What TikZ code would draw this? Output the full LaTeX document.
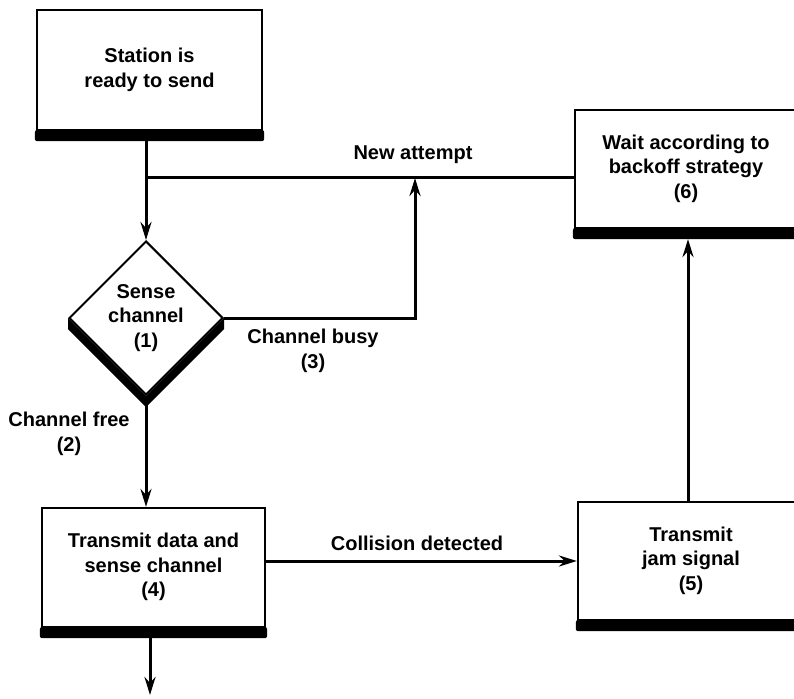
\documentclass[tikz,border=0pt]{standalone}
\usepackage{fontspec}
\setmainfont{Liberation Sans}
\usetikzlibrary{shapes.geometric,arrows.meta,calc}
\newcommand\flowfont{\fontsize{20}{24.5}\selectfont\bfseries}
% centred lines lifted a little above the middle of their box
\newcommand\liftlines[2]{\raisebox{#1}{\begin{tabular}{@{}c@{}}#2\end{tabular}}}

\begin{document}
\begin{tikzpicture}[x=1pt,y=-1pt,
  box/.style={draw, line width=2.2pt, fill=white, inner sep=0pt,
              align=center, font=\flowfont},
  decision/.style={diamond, aspect=1, draw, line width=2pt, fill=white,
              inner sep=0pt, align=center, font=\flowfont},
  lbl/.style={align=center, font=\flowfont, inner sep=1pt},
  conn/.style={line width=3pt},
  arr/.style={line width=3pt, -{Stealth[length=18pt,width=11pt,inset=6pt]}},
  shadowfill/.style={fill=black, rounded corners=2pt}]

\useasboundingbox (0,0) rectangle (794,698);
\clip (0,0) rectangle (794,698);

% process boxes and the decision diamond
\node[box, minimum width=225pt, minimum height=120pt] (st) at (149.5,70)
  {Station is\\ready to send};
\node[decision, minimum width=154pt, minimum height=154pt] (d) at (146,318)
  {Sense\\channel\\(1)};
\node[box, minimum width=222pt, minimum height=118pt] (b6) at (686,169)
  {\liftlines{2pt}{Wait according to\\backoff strategy\\(6)}};
\node[box, minimum width=223pt, minimum height=119pt] (b4) at (153.5,567.5)
  {\liftlines{5pt}{Transmit data and\\sense channel\\(4)}};
\node[box, minimum width=226pt, minimum height=118pt] (b5) at (691,561)
  {\liftlines{7pt}{Transmit\\jam signal\\(5)}};

% heavy drop shadows along the lower edges
\foreach \n in {st,b6,b4,b5}
  \fill[shadowfill] ($(\n.south west)+(-1,-1)$) rectangle ($(\n.south east)+(1,10)$);
\fill (d.west) -- (d.south) -- (d.east) -- ($(d.east)+(0,11)$)
      -- ($(d.south)+(0,11)$) -- ($(d.west)+(0,11)$) -- cycle;

% helper points for the connectors
\coordinate (j) at (146,177);
\coordinate (up) at (415,178);
\coordinate (jx) at (688,0);
\coordinate (out) at (150,695);

% connectors
\draw[arr] (d.north |- st.south) -- (d.north);
\draw[conn] (b6.west |- j) -- (j);
\draw[arr] (d.east) -| (up);
\draw[arr] (d.south) -- (d.south |- b4.north);
\draw[arr] (b4.east |- b5.west) -- (b5.west);
\draw[arr] (b5.north -| jx) -- ($(b6.south -| jx)+(0,10)$);
\draw[arr] (b4.south -| out) -- (out);

% connector labels
\node[lbl] (na) at (413,155) {New attempt};
\node[lbl] (cb) at (313,351) {Channel busy\\(3)};
\node[lbl] (cf) at (69,434) {Channel free\\(2)};
\node[lbl] (cd) at (417,543) {Collision detected};
\end{tikzpicture}
\end{document}
